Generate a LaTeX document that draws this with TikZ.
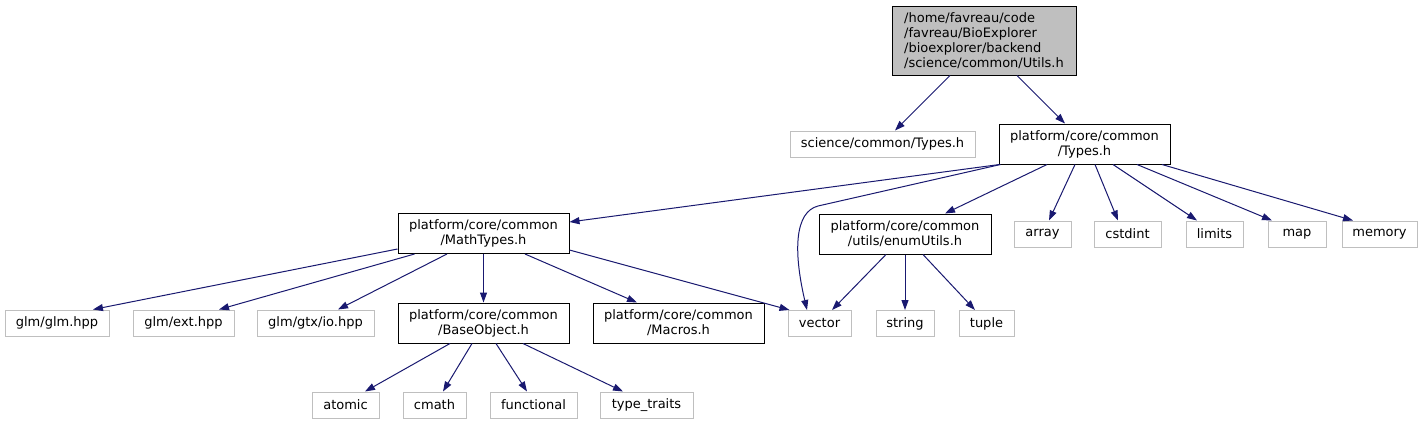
\documentclass[tikz,border=0pt]{standalone}
\usepackage{fontspec}
\setmainfont{DejaVu Sans}
\usetikzlibrary{arrows.meta}
\definecolor{edgeblue}{HTML}{191970}
\definecolor{extgray}{HTML}{BFBFBF}

\begin{document}
\begin{tikzpicture}[x=1pt,y=-1pt,
  box/.style={draw=black,line width=1pt,inner sep=0pt,align=center,font=\fontsize{13}{15}\selectfont},
  ext/.style={box,draw=extgray,minimum height=26pt},
  doc/.style={box,minimum height=40pt},
  edge/.style={draw=edgeblue,line width=1pt,-{Triangle[length=10pt,width=7pt]}}]
\useasboundingbox[fill=white] (0,0) rectangle (1425,424);

% top
\node[doc,fill=extgray,minimum width=184pt,minimum height=69pt,align=left] (utils) at (984,40.5) {/home/favreau/code\\/favreau/BioExplorer\\/bioexplorer/backend\\/science/common/Utils.h};
\node[ext,minimum width=185pt] (scitypes) at (882.5,144) {science/common/Types.h};
\node[doc,minimum width=171pt] (types) at (1084.5,144) {platform/core/common\\/Types.h};

% second row
\node[doc,minimum width=171pt] (mathtypes) at (483.5,233.5) {platform/core/common\\/MathTypes.h};
\node[doc,minimum width=172pt] (enumutils) at (905,234) {platform/core/common\\/utils/enumUtils.h};
\node[ext,minimum width=57pt] (array) at (1042.5,234) {array};
\node[ext,minimum width=67pt] (cstdint) at (1127.5,234) {cstdint};
\node[ext,minimum width=57pt] (limits) at (1214.5,234) {limits};
\node[ext,minimum width=58pt] (map) at (1297,234) {map};
\node[ext,minimum width=75pt] (memory) at (1379.5,234) {memory};

% third row
\node[ext,minimum width=104pt] (glmglm) at (57,323) {glm/glm.hpp};
\node[ext,minimum width=101pt] (glmext) at (183.5,323) {glm/ext.hpp};
\node[ext,minimum width=117pt] (glmio) at (315.5,323) {glm/gtx/io.hpp};
\node[doc,minimum width=171pt] (baseobject) at (483.5,323) {platform/core/common\\/BaseObject.h};
\node[doc,minimum width=171pt] (macros) at (678.5,323) {platform/core/common\\/Macros.h};
\node[ext,minimum width=63pt] (vector) at (819.5,323.5) {vector};
\node[ext,minimum width=58pt] (string) at (905,323.5) {string};
\node[ext,minimum width=55pt] (tuple) at (986.5,323.5) {tuple};

% bottom row
\node[ext,minimum width=67pt] (atomic) at (345.5,405) {atomic};
\node[ext,minimum width=63pt] (cmath) at (434.5,405) {cmath};
\node[ext,minimum width=87pt] (functional) at (533.5,405) {functional};
\node[ext,minimum width=93pt] (typetraits) at (646.5,405) {type\_traits};

% edges
\draw[edge] ([xshift=-34pt]utils.south) -- ([xshift=12.5pt]scitypes.north);
\draw[edge] ([xshift=33pt]utils.south) -- ([xshift=-19.5pt]types.north);

\draw[edge] ([xshift=1pt]types.south west) -- ([yshift=11.5pt]mathtypes.east);
\draw[edge] ([xshift=2pt]types.south west) -- (818,206) .. controls (795,212) and (793,250) .. ([xshift=-12.5pt]vector.north);
\draw[edge] ([xshift=-37.5pt]types.south) -- ([xshift=40pt]enumutils.north);
\draw[edge] ([xshift=-9.5pt]types.south) -- ([xshift=6.5pt]array.north);
\draw[edge] ([xshift=10.5pt]types.south) -- ([xshift=-9.5pt]cstdint.north);
\draw[edge] ([xshift=28.5pt]types.south) -- ([xshift=-17.5pt]limits.north);
\draw[edge] ([xshift=52.5pt]types.south) -- ([xshift=-25pt]map.north);
\draw[edge] ([xshift=77.5pt]types.south) -- ([xshift=-26.5pt]memory.north);

\draw[edge] ([yshift=-15.5pt]mathtypes.west) -- ([xshift=36pt]glmglm.north);
\draw[edge] ([xshift=17pt]mathtypes.south west) -- ([xshift=35.5pt]glmext.north);
\draw[edge] ([xshift=-36.5pt]mathtypes.south) -- ([xshift=22.5pt]glmio.north);
\draw[edge] (mathtypes.south) -- (baseobject.north);
\draw[edge] ([xshift=41.5pt]mathtypes.south) -- ([xshift=-41.5pt]macros.north);
\draw[edge] ([yshift=-16.5pt]mathtypes.east) -- ([xshift=2pt]vector.north west);

\draw[edge] ([xshift=-19pt]enumutils.south) -- ([xshift=12.5pt]vector.north);
\draw[edge] (enumutils.south) -- (string.north);
\draw[edge] ([xshift=18pt]enumutils.south) -- ([xshift=-11.5pt]tuple.north);

\draw[edge] ([xshift=-33.5pt]baseobject.south) -- ([xshift=19.5pt]atomic.north);
\draw[edge] ([xshift=-11.5pt]baseobject.south) -- ([xshift=8.5pt]cmath.north);
\draw[edge] ([xshift=12.5pt]baseobject.south) -- ([xshift=-6.5pt]functional.north);
\draw[edge] ([xshift=39.5pt]baseobject.south) -- ([xshift=-23.5pt]typetraits.north);

\end{tikzpicture}
\end{document}
